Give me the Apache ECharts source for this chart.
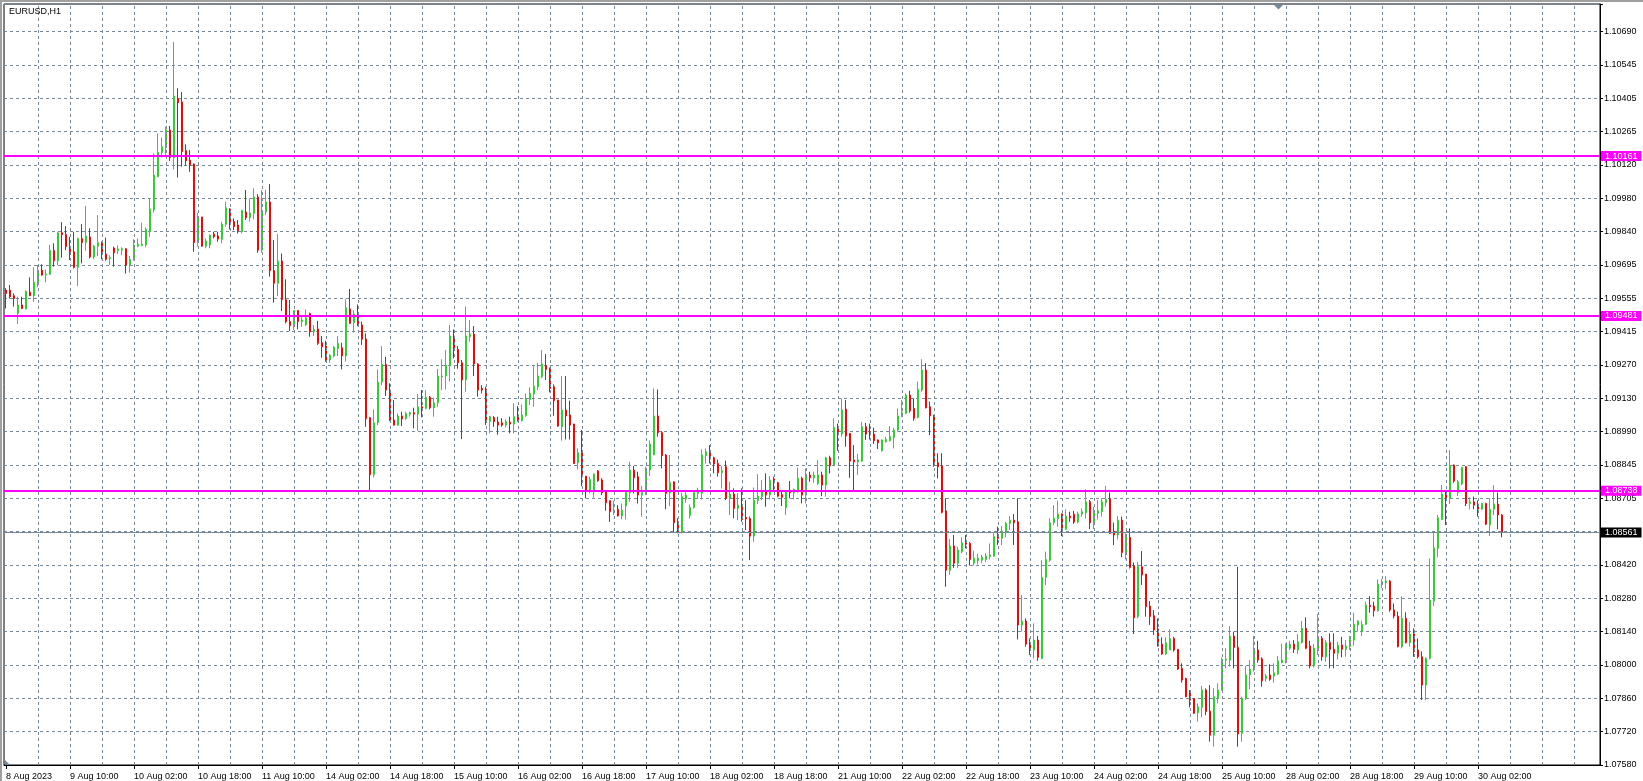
<!DOCTYPE html>
<html><head><meta charset="utf-8">
<script src="https://cdn.jsdelivr.net/npm/echarts@6/dist/echarts.min.js"></script>
<style>html,body{margin:0;padding:0;background:#fff;overflow:hidden}#c{width:1643px;height:781px}</style>
</head><body><div id="c"></div>
<script>
const chartTitle = 'EURUSD,H1';
const xTickLabels = ['8 Aug 2023','9 Aug 10:00','10 Aug 02:00','10 Aug 18:00','11 Aug 10:00','14 Aug 02:00','14 Aug 18:00','15 Aug 10:00','16 Aug 02:00','16 Aug 18:00','17 Aug 10:00','18 Aug 02:00','18 Aug 18:00','21 Aug 10:00','22 Aug 02:00','22 Aug 18:00','23 Aug 10:00','24 Aug 02:00','24 Aug 18:00','25 Aug 10:00','28 Aug 02:00','28 Aug 18:00','29 Aug 10:00','30 Aug 02:00'];
const yTickLabels = ['1.07580','1.07720','1.07860','1.08000','1.08140','1.08280','1.08420','1.08560','1.08705','1.08845','1.08990','1.09130','1.09270','1.09415','1.09555','1.09695','1.09840','1.09980','1.10120','1.10265','1.10405','1.10545','1.10690'];
const levelLines = [1.10161, 1.09481, 1.08738];
const lastPrice = 1.08561;

const opens = [
1.09591,1.09591,1.09567,1.09492,1.09528,1.09512,1.09583,1.09567,1.09627,1.09676,
1.09655,1.09659,1.09759,1.09716,1.09835,1.09827,1.09776,1.09754,1.09688,1.09810,
1.09793,1.09817,1.09732,1.09778,1.09793,1.09744,1.09725,1.09770,1.09759,1.09761,
1.09767,1.09698,1.09722,1.09778,1.09781,1.09783,1.09839,1.09932,1.10073,1.10177,
1.10197,1.10272,1.10155,1.10406,1.10391,1.10184,1.10144,1.10127,1.09793,1.09902,
1.09778,1.09783,1.09829,1.09821,1.09807,1.09871,1.09936,1.09882,1.09868,1.09839,
1.09923,1.09899,1.09917,1.09987,1.09761,1.09923,1.09966,1.09674,1.09620,1.09715,
1.09550,1.09457,1.09440,1.09504,1.09457,1.09443,1.09492,1.09414,1.09426,1.09367,
1.09353,1.09294,1.09311,1.09343,1.09346,1.09311,1.09511,1.09452,1.09489,1.09443,
1.09383,1.09049,1.08806,1.09027,1.09200,1.09275,1.09166,1.09039,1.09017,1.09056,
1.09044,1.09063,1.09070,1.09064,1.09095,1.09088,1.09136,1.09091,1.09112,1.09223,
1.09226,1.09270,1.09396,1.09339,1.09282,1.09209,1.09393,1.09404,1.09277,1.09173,
1.09170,1.09032,1.09049,1.09030,1.09027,1.09017,1.09030,1.09022,1.09053,1.09036,
1.09057,1.09126,1.09149,1.09180,1.09223,1.09271,1.09260,1.09180,1.09124,1.09010,
1.09081,1.09060,1.09022,1.08857,1.08900,1.08800,1.08734,1.08734,1.08822,1.08784,
1.08738,1.08696,1.08649,1.08659,1.08631,1.08673,1.08730,1.08826,1.08798,1.08720,
1.08730,1.08826,1.08890,1.09056,1.08985,1.08890,1.08730,1.08776,1.08606,1.08560,
1.08703,1.08632,1.08667,1.08727,1.08727,1.08887,1.08904,1.08878,1.08854,1.08815,
1.08840,1.08706,1.08724,1.08663,1.08677,1.08625,1.08620,1.08545,1.08696,1.08713,
1.08737,1.08720,1.08788,1.08772,1.08721,1.08666,1.08738,1.08730,1.08734,1.08791,
1.08720,1.08805,1.08793,1.08769,1.08805,1.08762,1.08878,1.08847,1.09007,1.08979,
1.09085,1.08982,1.08869,1.08861,1.08864,1.09010,1.08989,1.08979,1.08954,1.08908,
1.08947,1.08951,1.08964,1.08996,1.09053,1.09067,1.09145,1.09088,1.09050,1.09166,
1.09251,1.09095,1.09060,1.08857,1.08843,1.08652,1.08400,1.08503,1.08430,1.08479,
1.08517,1.08514,1.08430,1.08440,1.08443,1.08446,1.08458,1.08460,1.08543,1.08536,
1.08567,1.08599,1.08613,1.08606,1.08167,1.08184,1.08086,1.08061,1.08103,1.08025,
1.08370,1.08443,1.08602,1.08619,1.08639,1.08574,1.08630,1.08638,1.08605,1.08639,
1.08645,1.08691,1.08599,1.08642,1.08649,1.08687,1.08703,1.08564,1.08550,1.08613,
1.08475,1.08540,1.08418,1.08203,1.08415,1.08384,1.08248,1.08207,1.08150,1.08086,
1.08044,1.08061,1.08110,1.08064,1.07983,1.07940,1.07884,1.07855,1.07794,1.07817,
1.07891,1.07801,1.07699,1.07855,1.07891,1.08018,1.08018,1.08120,1.08072,1.07706,
1.07855,1.07955,1.07976,1.08061,1.08023,1.07940,1.07955,1.07950,1.07959,1.08008,
1.08011,1.08068,1.08086,1.08061,1.08092,1.08153,1.08078,1.07993,1.08064,1.08110,
1.08032,1.08093,1.08064,1.08047,1.08082,1.08064,1.08075,1.08103,1.08167,1.08139,
1.08170,1.08251,1.08248,1.08228,1.08341,1.08347,1.08354,1.08231,1.08205,1.08075,
1.08195,1.08092,1.08129,1.08061,1.08032,1.07912,1.08025,1.08269,1.08493,1.08616,
1.08727,1.08706,1.08847,1.08730,1.08767,1.08840,1.08684,1.08691,1.08681,1.08660,
1.08684,1.08592,1.08659,1.08681,1.08635];

const highs = [
1.09599,1.09613,1.09577,1.09563,1.09563,1.09590,1.09645,1.09688,1.09698,1.09701,
1.09679,1.09783,1.09790,1.09839,1.09880,1.09863,1.09818,1.09839,1.09814,1.09872,
1.09949,1.09854,1.09783,1.09910,1.09798,1.09814,1.09739,1.09776,1.09781,1.09773,
1.09769,1.09736,1.09808,1.09811,1.09878,1.09858,1.09981,1.10172,1.10257,1.10240,
1.10286,1.10289,1.10646,1.10449,1.10433,1.10211,1.10187,1.10130,1.09920,1.09903,
1.09811,1.09828,1.09839,1.09839,1.09882,1.09967,1.09939,1.09896,1.09889,1.09932,
1.10017,1.09981,1.10024,1.09999,1.10017,1.10017,1.10042,1.09804,1.09830,1.09747,
1.09637,1.09549,1.09506,1.09506,1.09485,1.09509,1.09495,1.09443,1.09460,1.09396,
1.09376,1.09318,1.09353,1.09396,1.09367,1.09552,1.09596,1.09506,1.09530,1.09457,
1.09407,1.09049,1.09084,1.09254,1.09353,1.09308,1.09195,1.09124,1.09067,1.09074,
1.09074,1.09074,1.09091,1.09149,1.09166,1.09166,1.09141,1.09134,1.09256,1.09297,
1.09336,1.09443,1.09424,1.09353,1.09294,1.09521,1.09464,1.09438,1.09280,1.09187,
1.09180,1.09057,1.09056,1.09053,1.09046,1.09041,1.09053,1.09110,1.09098,1.09105,
1.09152,1.09178,1.09268,1.09282,1.09336,1.09319,1.09261,1.09190,1.09124,1.09226,
1.09226,1.09121,1.09022,1.08918,1.08996,1.08800,1.08798,1.08812,1.08826,1.08791,
1.08741,1.08696,1.08696,1.08677,1.08684,1.08741,1.08861,1.08843,1.08819,1.08758,
1.08840,1.08951,1.09173,1.09169,1.08992,1.08894,1.08890,1.08779,1.08621,1.08730,
1.08734,1.08680,1.08734,1.08751,1.08914,1.08918,1.08932,1.08883,1.08871,1.08844,
1.08866,1.08776,1.08748,1.08727,1.08748,1.08698,1.08628,1.08752,1.08809,1.08783,
1.08812,1.08801,1.08798,1.08776,1.08741,1.08741,1.08779,1.08748,1.08836,1.08798,
1.08833,1.08819,1.08819,1.08868,1.08819,1.08883,1.08887,1.09046,1.09024,1.09131,
1.09124,1.08982,1.08932,1.08894,1.09031,1.09027,1.09024,1.09006,1.08956,1.08956,
1.08968,1.09013,1.09006,1.09088,1.09124,1.09152,1.09163,1.09131,1.09202,1.09297,
1.09280,1.09117,1.09060,1.08897,1.08897,1.08706,1.08533,1.08550,1.08500,1.08540,
1.08550,1.08520,1.08483,1.08470,1.08465,1.08472,1.08514,1.08557,1.08585,1.08588,
1.08606,1.08630,1.08639,1.08706,1.08295,1.08195,1.08110,1.08174,1.08120,1.08443,
1.08479,1.08621,1.08677,1.08696,1.08642,1.08659,1.08649,1.08652,1.08649,1.08663,
1.08745,1.08699,1.08670,1.08699,1.08706,1.08758,1.08730,1.08602,1.08630,1.08628,
1.08557,1.08578,1.08433,1.08436,1.08482,1.08384,1.08269,1.08231,1.08195,1.08115,
1.08115,1.08149,1.08117,1.08064,1.08004,1.07943,1.07891,1.07855,1.07834,1.07908,
1.07898,1.07912,1.07898,1.07919,1.08030,1.08068,1.08163,1.08139,1.08415,1.07862,
1.07993,1.08018,1.08120,1.08100,1.08030,1.07959,1.08000,1.08004,1.08035,1.08089,
1.08089,1.08100,1.08103,1.08129,1.08184,1.08200,1.08100,1.08086,1.08214,1.08120,
1.08103,1.08132,1.08132,1.08096,1.08117,1.08103,1.08120,1.08220,1.08188,1.08186,
1.08266,1.08290,1.08266,1.08361,1.08363,1.08375,1.08358,1.08259,1.08224,1.08290,
1.08221,1.08181,1.08153,1.08110,1.08055,1.08030,1.08450,1.08560,1.08635,1.08762,
1.08741,1.08911,1.08850,1.08784,1.08840,1.08843,1.08710,1.08713,1.08696,1.08687,
1.08687,1.08706,1.08762,1.08730,1.08638];

const lows = [
1.09513,1.09556,1.09521,1.09447,1.09512,1.09508,1.09567,1.09542,1.09603,1.09652,
1.09624,1.09655,1.09691,1.09698,1.09729,1.09761,1.09719,1.09683,1.09608,1.09705,
1.09759,1.09726,1.09722,1.09736,1.09722,1.09716,1.09698,1.09691,1.09744,1.09740,
1.09661,1.09665,1.09716,1.09773,1.09778,1.09773,1.09818,1.09920,1.10073,1.10155,
1.10165,1.10140,1.10104,1.10070,1.10116,1.10119,1.10094,1.09754,1.09776,1.09776,
1.09769,1.09769,1.09811,1.09797,1.09790,1.09861,1.09849,1.09846,1.09832,1.09832,
1.09889,1.09882,1.09892,1.09750,1.09750,1.09910,1.09648,1.09538,1.09566,1.09502,
1.09450,1.09417,1.09421,1.09424,1.09435,1.09438,1.09393,1.09396,1.09358,1.09304,
1.09287,1.09282,1.09305,1.09311,1.09254,1.09287,1.09447,1.09410,1.09438,1.09358,
1.09010,1.08738,1.08795,1.09017,1.09187,1.09141,1.09034,1.09016,1.09015,1.09013,
1.09039,1.09053,1.09003,1.08993,1.09050,1.09084,1.09084,1.09053,1.09095,1.09166,
1.09169,1.09202,1.09301,1.09257,1.08958,1.09159,1.09372,1.09226,1.09138,1.09152,
1.09017,1.08982,1.09010,1.08976,1.09010,1.09007,1.08982,1.08982,1.09032,1.09032,
1.09053,1.09102,1.09095,1.09166,1.09216,1.09209,1.09156,1.09057,1.09010,1.08951,
1.08956,1.08956,1.08852,1.08829,1.08758,1.08706,1.08727,1.08708,1.08776,1.08720,
1.08653,1.08606,1.08635,1.08628,1.08616,1.08616,1.08691,1.08727,1.08684,1.08628,
1.08720,1.08801,1.08890,1.08968,1.08833,1.08659,1.08673,1.08560,1.08557,1.08557,
1.08687,1.08620,1.08663,1.08703,1.08701,1.08854,1.08854,1.08812,1.08798,1.08747,
1.08698,1.08635,1.08621,1.08613,1.08606,1.08571,1.08443,1.08521,1.08681,1.08698,
1.08670,1.08701,1.08741,1.08710,1.08673,1.08635,1.08706,1.08701,1.08730,1.08684,
1.08684,1.08776,1.08772,1.08762,1.08715,1.08713,1.08812,1.08843,1.08908,1.08968,
1.08925,1.08793,1.08738,1.08805,1.08861,1.08954,1.08956,1.08937,1.08915,1.08904,
1.08942,1.08947,1.08918,1.08989,1.09053,1.09064,1.09070,1.09036,1.09046,1.09159,
1.09088,1.08975,1.08840,1.08791,1.08642,1.08330,1.08380,1.08410,1.08410,1.08472,
1.08493,1.08420,1.08420,1.08425,1.08430,1.08435,1.08446,1.08458,1.08507,1.08507,
1.08540,1.08571,1.08507,1.08106,1.08139,1.08075,1.08040,1.08025,1.08015,1.08021,
1.08337,1.08436,1.08592,1.08585,1.08545,1.08571,1.08606,1.08597,1.08600,1.08628,
1.08621,1.08575,1.08575,1.08616,1.08628,1.08670,1.08554,1.08507,1.08531,1.08455,
1.08446,1.08407,1.08129,1.08195,1.08337,1.08203,1.08167,1.08125,1.08075,1.08040,
1.08040,1.08061,1.08054,1.07976,1.07922,1.07860,1.07817,1.07789,1.07756,1.07775,
1.07784,1.07671,1.07650,1.07834,1.07888,1.07983,1.07990,1.07983,1.07650,1.07671,
1.07848,1.07894,1.07969,1.08007,1.07905,1.07926,1.07930,1.07922,1.07955,1.08004,
1.08004,1.08061,1.08049,1.08044,1.08089,1.08064,1.07983,1.07987,1.08040,1.08015,
1.08011,1.07983,1.07983,1.08021,1.08030,1.08032,1.08061,1.08079,1.08139,1.08120,
1.08167,1.08220,1.08203,1.08224,1.08323,1.08320,1.08224,1.08195,1.08072,1.08068,
1.08089,1.08075,1.08032,1.08025,1.07848,1.07848,1.08021,1.08248,1.08455,1.08613,
1.08592,1.08682,1.08772,1.08716,1.08762,1.08673,1.08659,1.08659,1.08628,1.08656,
1.08592,1.08545,1.08635,1.08574,1.08540];

const closes = [
1.09577,1.09563,1.09555,1.09528,1.09512,1.09586,1.09567,1.09624,1.09676,1.09655,
1.09659,1.09759,1.09716,1.09835,1.09827,1.09776,1.09754,1.09688,1.09810,1.09793,
1.09821,1.09732,1.09778,1.09793,1.09744,1.09722,1.09730,1.09750,1.09766,1.09767,
1.09698,1.09722,1.09783,1.09786,1.09786,1.09849,1.09936,1.10080,1.10177,1.10201,
1.10272,1.10155,1.10416,1.10388,1.10180,1.10141,1.10123,1.09793,1.09896,1.09778,
1.09800,1.09825,1.09818,1.09808,1.09872,1.09941,1.09878,1.09861,1.09844,1.09930,
1.09899,1.09919,1.09987,1.09761,1.09923,1.09966,1.09674,1.09620,1.09715,1.09550,
1.09457,1.09440,1.09504,1.09457,1.09464,1.09474,1.09414,1.09424,1.09365,1.09350,
1.09294,1.09315,1.09348,1.09365,1.09311,1.09516,1.09450,1.09489,1.09443,1.09382,
1.09044,1.08806,1.09027,1.09200,1.09275,1.09166,1.09036,1.09017,1.09056,1.09043,
1.09066,1.09070,1.09064,1.09095,1.09088,1.09136,1.09091,1.09112,1.09226,1.09226,
1.09272,1.09396,1.09339,1.09282,1.09209,1.09396,1.09404,1.09277,1.09166,1.09166,
1.09032,1.09053,1.09032,1.09017,1.09017,1.09032,1.09022,1.09053,1.09036,1.09060,
1.09128,1.09152,1.09183,1.09226,1.09277,1.09254,1.09173,1.09121,1.09013,1.09081,
1.09056,1.09017,1.08854,1.08900,1.08798,1.08734,1.08786,1.08809,1.08781,1.08730,
1.08687,1.08649,1.08656,1.08631,1.08656,1.08730,1.08826,1.08793,1.08720,1.08730,
1.08826,1.08937,1.09056,1.08985,1.08887,1.08727,1.08774,1.08602,1.08560,1.08713,
1.08720,1.08667,1.08730,1.08737,1.08890,1.08904,1.08873,1.08852,1.08815,1.08823,
1.08706,1.08724,1.08663,1.08677,1.08616,1.08618,1.08545,1.08698,1.08715,1.08737,
1.08720,1.08783,1.08772,1.08715,1.08710,1.08738,1.08730,1.08744,1.08791,1.08720,
1.08809,1.08793,1.08805,1.08805,1.08762,1.08878,1.08844,1.09007,1.08979,1.09081,
1.08971,1.08864,1.08861,1.08869,1.09010,1.08979,1.08975,1.08951,1.08942,1.08954,
1.08956,1.08968,1.08996,1.09056,1.09070,1.09145,1.09078,1.09046,1.09169,1.09251,
1.09091,1.09056,1.08854,1.08840,1.08646,1.08400,1.08503,1.08430,1.08486,1.08517,
1.08511,1.08446,1.08451,1.08452,1.08455,1.08460,1.08465,1.08543,1.08536,1.08567,
1.08599,1.08613,1.08602,1.08167,1.08184,1.08086,1.08061,1.08103,1.08030,1.08370,
1.08446,1.08602,1.08621,1.08639,1.08577,1.08630,1.08623,1.08605,1.08639,1.08649,
1.08691,1.08602,1.08645,1.08653,1.08691,1.08701,1.08557,1.08550,1.08613,1.08475,
1.08540,1.08412,1.08198,1.08415,1.08380,1.08245,1.08203,1.08146,1.08079,1.08044,
1.08092,1.08110,1.08061,1.07980,1.07933,1.07862,1.07848,1.07792,1.07820,1.07891,
1.07799,1.07699,1.07862,1.07891,1.08021,1.08023,1.08120,1.08072,1.07704,1.07855,
1.07955,1.07979,1.08064,1.08018,1.07930,1.07950,1.07936,1.07964,1.08015,1.08018,
1.08082,1.08086,1.08064,1.08096,1.08153,1.08068,1.07993,1.08068,1.08110,1.08032,
1.08093,1.08064,1.08047,1.08082,1.08064,1.08078,1.08106,1.08170,1.08184,1.08170,
1.08252,1.08245,1.08228,1.08341,1.08351,1.08354,1.08231,1.08205,1.08075,1.08195,
1.08092,1.08129,1.08054,1.08032,1.07912,1.08025,1.08273,1.08496,1.08623,1.08724,
1.08708,1.08847,1.08779,1.08776,1.08837,1.08684,1.08691,1.08677,1.08660,1.08684,
1.08596,1.08659,1.08681,1.08635,1.08561];

// hourly bar times (forex, weekends skipped) + empty right-side shift slots
const totalSlots = 399;
const months = ['Jan','Feb','Mar','Apr','May','Jun','Jul','Aug','Sep','Oct','Nov','Dec'];
const categories = [];
let t = Date.UTC(2023, 7, 8, 18);
for (let i = 0; i < totalSlots; i++) {
  const d = new Date(t);
  categories.push(d.getUTCDate() + ' ' + months[d.getUTCMonth()] + ' ' + String(d.getUTCHours()).padStart(2,'0') + ':00');
  do { t += 3600000; const w = new Date(t).getUTCDay(); if (w !== 0 && w !== 6) break; } while (true);
}

const ohlc = opens.map((o, i) => [o, closes[i], lows[i], highs[i]]);

const FONT = "'Liberation Sans', Arial, sans-serif";
const yMin = 1.07572, yStep = 0.0014172, yMax = 1.108075;
const gridColor = '#778899';
const vGrid = [];
for (let i = 8; i < totalSlots; i += 8) vGrid.push({ xAxis: i });

const tag = (bg) => ({ show: true, position: 'end', distance: 1, color: '#fff', backgroundColor: bg,
  padding: [1, 4, 0, 4], fontSize: 9, lineHeight: 9, fontFamily: FONT, formatter: (p) => Number(p.value).toFixed(5) });

const chart = echarts.init(document.getElementById('c'), null, { renderer: 'canvas' });
chart.setOption({
  animation: false,
  backgroundColor: '#fff',
  textStyle: { fontFamily: FONT },
  title: { text: chartTitle, left: 9, top: 7, padding: 0,
    textStyle: { fontSize: 9, fontWeight: 'normal', color: '#000', fontFamily: FONT } },
  grid: { left: 4, right: 43, top: 4, bottom: 16, show: true, borderColor: '#000', borderWidth: 1, backgroundColor: '#fff' },
  xAxis: {
    type: 'category', data: categories, boundaryGap: true,
    axisLine: { show: true, lineStyle: { color: '#000', width: 1 } },
    axisTick: { show: true, alignWithLabel: true, length: 4, lineStyle: { color: '#000' },
      interval: (idx) => idx % 16 === 0 && idx / 16 < xTickLabels.length },
    axisLabel: { interval: (idx) => idx % 16 === 0 && idx / 16 < xTickLabels.length,
      align: 'left', margin: 7, fontSize: 9, color: '#000', fontFamily: FONT,
      formatter: (v, idx) => xTickLabels[idx / 16] || '' },
    splitLine: { show: false }
  },
  yAxis: {
    type: 'value', position: 'right', min: yMin, max: yMax, interval: yStep, scale: true,
    axisLine: { show: true, lineStyle: { color: '#000', width: 1 } },
    axisTick: { show: true, length: 3, lineStyle: { color: '#000' } },
    axisLabel: { margin: 4, fontSize: 9, color: '#000', fontFamily: FONT,
      showMinLabel: true, showMaxLabel: true,
      formatter: (v) => { const k = Math.round((v - yMin) / yStep);
        return Math.abs(v - (yMin + k * yStep)) < yStep * 0.05 ? (yTickLabels[k] || '') : ''; } },
    splitLine: { show: true, lineStyle: { color: gridColor, width: 1, type: [3, 3] } }
  },
  graphic: [
    { type: 'rect', shape: { x: 0, y: 0, width: 1643, height: 2 }, style: { fill: '#a0a0a0' }, silent: true },
    { type: 'rect', shape: { x: 0, y: 0, width: 2, height: 781 }, style: { fill: '#a0a0a0' }, silent: true },
    { type: 'polygon', shape: { points: [[1274, 5], [1283, 5], [1278.5, 9.5]] }, style: { fill: gridColor }, silent: true },
    { type: 'polygon', shape: { points: [[5, 760], [5, 765], [10, 765]] }, style: { fill: gridColor }, silent: true }
  ],
  series: [
    { type: 'line', data: [], silent: true, z: 1,
      markLine: { silent: true, symbol: ['none', 'none'], animation: false, label: { show: false },
        lineStyle: { color: gridColor, width: 1, type: [3, 3] }, data: vGrid } },
    { type: 'candlestick', data: ohlc, barWidth: 2, z: 3,
      itemStyle: { color: '#32CD32', color0: '#FF0000', borderColor: '#32CD32', borderColor0: '#FF0000', borderWidth: 1 },
      markLine: { silent: true, symbol: ['none', 'none'], animation: false, precision: 5, z: 5,
        data: levelLines.map(v => ({ yAxis: v, lineStyle: { color: '#FF00FF', width: 2, type: 'solid' }, label: tag('#FF00FF') }))
          .concat([{ yAxis: lastPrice, lineStyle: { color: gridColor, width: 1, type: 'solid' }, label: tag('#000') }]) } }
  ]
});
</script>
</body></html>
